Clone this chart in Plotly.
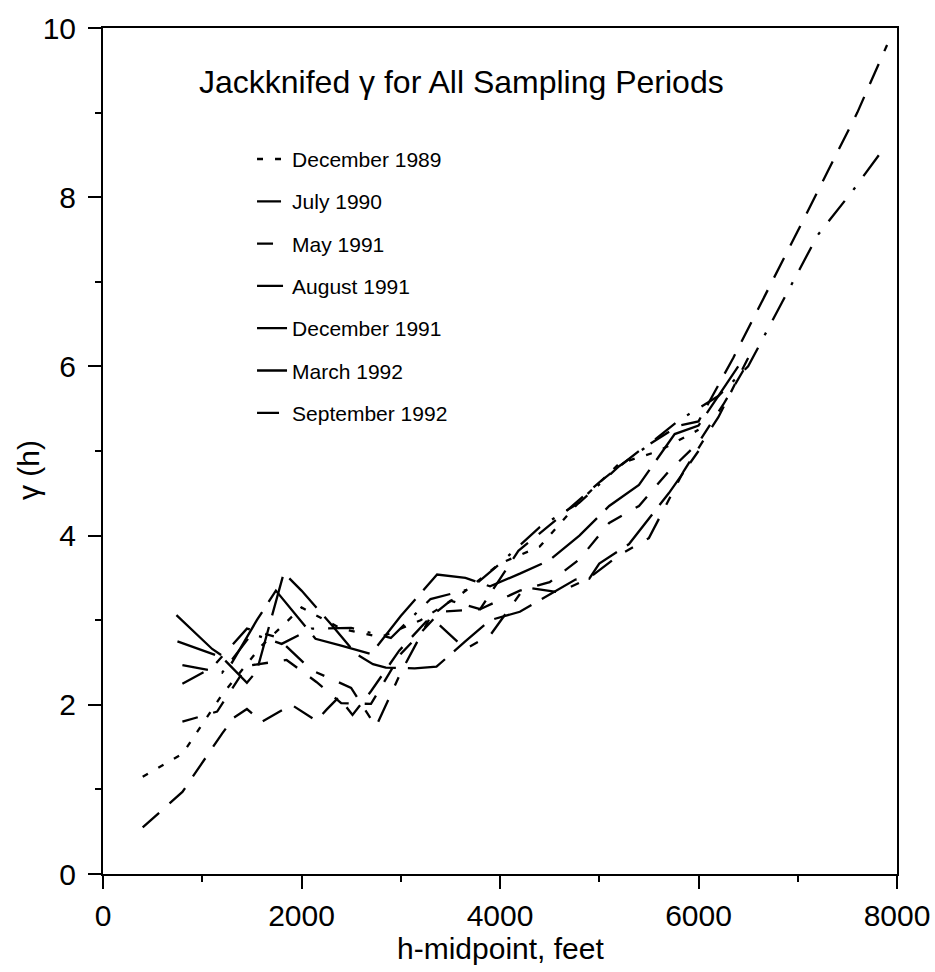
import plotly.graph_objects as go

# ---- data ----
names = ["December 1989", "July 1990", "May 1991", "August 1991",
         "December 1991", "March 1992", "September 1992"]

x_dec89 = [400, 800, 1200, 1600, 2000, 2400, 2800, 3200, 3600, 4000, 4400, 4800, 5200, 5600, 6000]
y_dec89 = [1.15, 1.42, 2.12, 2.70, 3.15, 2.90, 2.80, 3.00, 3.30, 3.67, 3.87, 4.40, 4.85, 5.00, 5.25]

x_jul90 = [800, 1100, 1450, 1750, 2100, 2500, 2750, 3000, 3300, 3650, 3900, 4250, 4600, 4900, 5200, 5500, 5850, 6200, 6500]
y_jul90 = [2.25, 2.44, 2.90, 2.80, 2.41, 2.20, 1.74, 2.38, 3.04, 2.66, 2.82, 3.39, 3.33, 3.50, 3.77, 3.97, 4.76, 5.40, 6.10]

x_may91 = [800, 1150, 1450, 1850, 2150, 2400, 2700, 3000, 3400, 3800, 4200, 4500, 4800, 5100, 5400, 5700, 6000, 6250, 6500]
y_may91 = [1.80, 1.92, 2.46, 2.53, 2.27, 2.02, 2.01, 2.60, 3.10, 3.13, 3.35, 3.45, 3.72, 4.15, 4.35, 4.76, 5.10, 5.55, 6.05]

x_aug91 = [800, 1200, 1500, 1800, 2100, 2500, 2900, 3300, 3700, 4000, 4400, 4800, 5200, 5450, 5800, 6200, 6500, 6800, 7200, 7550, 7850]
y_aug91 = [2.47, 2.38, 2.84, 2.72, 2.90, 2.91, 2.79, 3.25, 3.37, 3.67, 4.10, 4.39, 4.82, 5.03, 5.36, 5.65, 6.00, 6.67, 7.55, 8.07, 8.55]

x_dec91 = [750, 1200, 1450, 1550, 1822, 2000, 2300, 2550, 2720, 2850, 3140, 3360, 3650, 3900, 4200, 4500, 4760, 4900, 5000, 5300, 5700, 6000]
y_dec91 = [2.75, 2.56, 2.26, 2.40, 3.56, 3.35, 2.95, 2.60, 2.48, 2.44, 2.43, 2.45, 2.75, 3.00, 3.10, 3.30, 3.48, 3.49, 3.67, 3.90, 4.50, 5.00]

x_mar92 = [740, 1100, 1300, 1550, 1742, 2141, 2400, 2700, 3000, 3366, 3652, 3900, 4200, 4500, 4800, 5100, 5400, 5760, 6000, 6400]
y_mar92 = [3.06, 2.66, 2.50, 3.00, 3.35, 2.78, 2.70, 2.60, 3.05, 3.54, 3.50, 3.40, 3.55, 3.71, 4.00, 4.35, 4.60, 5.20, 5.30, 6.00]

x_sep92 = [400, 800, 1200, 1320, 1450, 1600, 1900, 2150, 2250, 2375, 2514, 2700, 2984, 3300, 3500, 3800, 4185, 4580, 5000, 5400, 5800, 6000, 6350, 6700, 7000, 7300, 7600, 7900]
y_sep92 = [0.55, 0.97, 1.66, 1.85, 1.95, 1.80, 2.00, 1.81, 1.94, 2.09, 1.88, 2.16, 2.64, 3.04, 3.23, 3.13, 3.82, 4.20, 4.63, 5.00, 5.30, 5.35, 6.10, 6.90, 7.60, 8.30, 9.00, 9.80]

series_x = [x_dec89, x_jul90, x_may91, x_aug91, x_dec91, x_mar92, x_sep92]
series_y = [y_dec89, y_jul90, y_may91, y_aug91, y_dec91, y_mar92, y_sep92]
dashes = ["6px,12px", "24px,16px,9px,16px", "16px,16px", "26px,14px,3px,14px",
          "40px,12px", "60px,12px", "22px,14px"]

FONT = "Liberation Sans, Arial, sans-serif"
BLACK = "black"

fig = go.Figure()
for i, (nm, xs, ys, ds) in enumerate(zip(names, series_x, series_y, dashes)):
    fig.add_trace(go.Scatter(
        x=xs, y=ys, mode="lines", name=nm, legendgroup=f"g{i}",
        line=dict(color=BLACK, width=2.3, dash=ds),
    ))

fig.add_annotation(
    text="Jackknifed γ for All Sampling Periods", xref="paper", yref="paper",
    x=0.1184, y=0.936, xanchor="left", yanchor="middle", showarrow=False,
    font=dict(family=FONT, size=32, color=BLACK),
)
fig.add_annotation(
    text="h-midpoint, feet", xref="paper", yref="paper",
    x=0.5, y=-0.0875, xanchor="center", yanchor="middle", showarrow=False,
    font=dict(family=FONT, size=30, color=BLACK),
)
fig.add_annotation(
    text="γ (h)", xref="paper", yref="paper", textangle=-90,
    x=-0.0945, y=0.4775, xanchor="center", yanchor="middle", showarrow=False,
    font=dict(family=FONT, size=30, color=BLACK),
)

fig.update_layout(
    width=935, height=972,
    margin=dict(l=103, r=38, t=28, b=98),
    paper_bgcolor="white", plot_bgcolor="white",
    font=dict(family=FONT, color=BLACK),
    showlegend=True,
    legend=dict(
        x=0.1877, y=0.869, xanchor="left", yanchor="top",
        bgcolor="rgba(0,0,0,0)", borderwidth=0,
        font=dict(family=FONT, size=21, color=BLACK),
        tracegroupgap=12, traceorder="grouped",
    ),
    xaxis=dict(
        range=[0, 8000], showgrid=False, zeroline=False, automargin=False,
        showline=True, linecolor=BLACK, linewidth=2, mirror=True,
        ticks="outside", ticklen=13, tickwidth=2, tickcolor=BLACK,
        tickmode="array", tickvals=[0, 2000, 4000, 6000, 8000],
        ticktext=["0", "2000", "4000", "6000", "8000"],
        tickfont=dict(family=FONT, size=30, color=BLACK),
        ticklabelstandoff=1,
        minor=dict(dtick=1000, ticks="outside", ticklen=6, tickwidth=2, tickcolor=BLACK),
    ),
    yaxis=dict(
        range=[0, 10], showgrid=False, zeroline=False, automargin=False,
        showline=True, linecolor=BLACK, linewidth=2, mirror=True,
        ticks="outside", ticklen=13, tickwidth=2, tickcolor=BLACK,
        tickmode="array", tickvals=[0, 2, 4, 6, 8, 10],
        ticktext=["0", "2", "4", "6", "8", "10"],
        tickfont=dict(family=FONT, size=30, color=BLACK),
        ticklabelstandoff=6,
        minor=dict(dtick=1, ticks="outside", ticklen=6, tickwidth=2, tickcolor=BLACK),
    ),
)

fig.write_html("out.html")
